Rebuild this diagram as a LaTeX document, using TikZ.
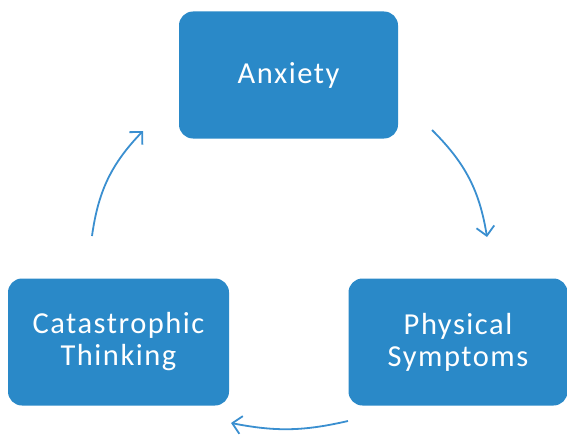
\documentclass[tikz,border=0pt]{standalone}
\usepackage{fontspec}
\setsansfont{Carlito}
\usetikzlibrary{arrows.meta}
\definecolor{cycBlue}{HTML}{2A89C8}
\definecolor{cycLine}{HTML}{3A8FD0}

\begin{document}
\begin{tikzpicture}[
  x=1pt, y=-1pt,
  stagebox/.style={
    fill=cycBlue, draw=none,
    text=white, align=center,
    font=\sffamily\fontsize{30.5}{32}\selectfont\addfontfeatures{LetterSpace=5},
    minimum width=219pt, minimum height=127pt,
    rounded corners=14pt, inner sep=0pt
  },
  cycarr/.style={-{Straight Barb[length=9pt, width=18pt, line width=1.8pt]},
    line width=1.8pt, cycLine}
]
\useasboundingbox (0,0) rectangle (567,436);

%% ═══ stages of the cycle ═══
\node[stagebox] (anx) at (288.5,75) {Anxiety};
\node[stagebox] (phys) at (458,342) {Physical\\Symptoms};
\node[stagebox, minimum width=221pt] (cat) at (118.5,342) {Catastrophic\\Thinking};

%% ═══ arrow ends ═══
\coordinate (a1) at (432,130);
\coordinate (a2) at (487,237);
\coordinate (b1) at (348,421);
\coordinate (b2) at (231,423);
\coordinate (c1) at (92,236);
\coordinate (c2) at (143,131);

\draw[cycarr] (a1) to[bend left=18] (a2);
\draw[cycarr] (b1) to[bend left=12] (b2);
\draw[cycarr] (c1) to[bend left=18] (c2);

\end{tikzpicture}
\end{document}
